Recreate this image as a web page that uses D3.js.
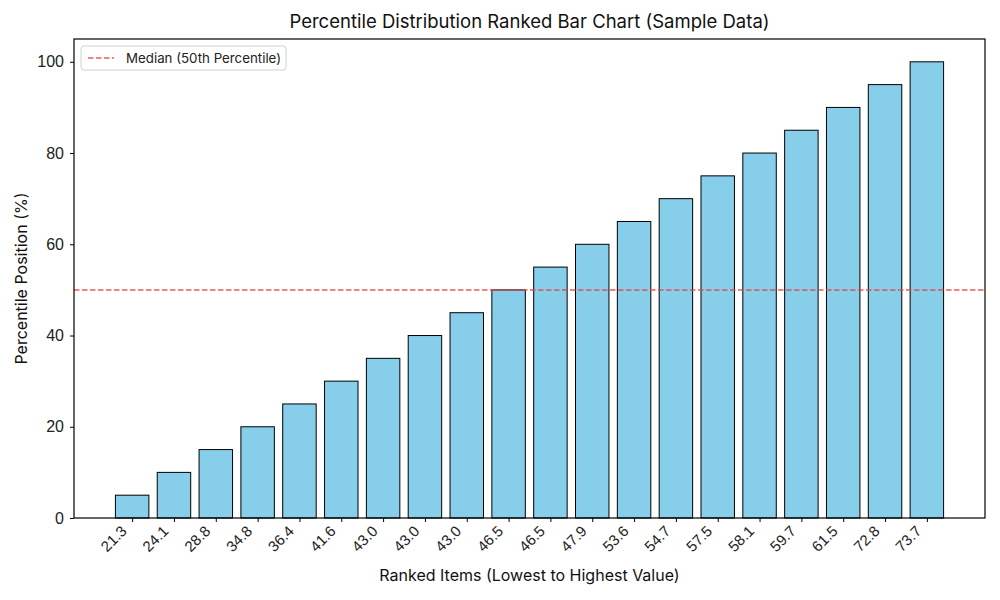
<!DOCTYPE html>
<html>
<head>
<meta charset="utf-8">
<script src="https://cdn.jsdelivr.net/npm/d3@7"></script>
<style>
  body { margin: 0; background: #fff; }
  svg { font-family: Inter, "DejaVu Sans", sans-serif; }
</style>
</head>
<body>
<svg id="chart" width="1000" height="600"></svg>
<script>
// values of the ranked items (tick labels) and their percentile positions
const itemValues = [21.3, 24.1, 28.8, 34.8, 36.4, 41.6, 43.0, 43.0, 43.0, 46.5,
                    46.5, 47.9, 53.6, 54.7, 57.5, 58.1, 59.7, 61.5, 72.8, 73.7];
const percentiles = [5, 10, 15, 20, 25, 30, 35, 40, 45, 50,
                     55, 60, 65, 70, 75, 80, 85, 90, 95, 100];
const yTicks = [0, 20, 40, 60, 80, 100];
const medianValue = 50;

const margin = { top: 39, right: 15, bottom: 82, left: 74 };
const width = 1000, height = 600;

const svg = d3.select('#chart');
const g = svg.append('g').attr('transform', `translate(${margin.left},${margin.top})`);
const w = width - margin.left - margin.right;
const h = height - margin.top - margin.bottom;

const idx = d3.range(itemValues.length);
const barW = 0.8;
// matplotlib-style limits: bars span -0.4..n-0.6, plus 5% margin
const lo = -barW / 2, hi = idx.length - 1 + barW / 2;
const pad = (hi - lo) * 0.05;
const x = d3.scaleLinear().domain([lo - pad, hi + pad]).range([0, w]);
const y = d3.scaleLinear().domain([0, 105]).range([h, 0]);

// Bars
g.selectAll('rect.bar')
  .data(idx)
  .join('rect')
  .attr('class', 'bar')
  .attr('x', (i) => x(i - barW / 2))
  .attr('width', (i) => x(i + barW / 2) - x(i - barW / 2))
  .attr('y', (i) => y(percentiles[i]))
  .attr('height', (i) => y(0) - y(percentiles[i]))
  .attr('fill', '#87ceeb')
  .attr('stroke', '#000')
  .attr('stroke-width', 1);

// Median line
g.append('line')
  .attr('x1', 0).attr('x2', w)
  .attr('y1', y(medianValue)).attr('y2', y(medianValue))
  .attr('stroke', '#e8403f')
  .attr('stroke-opacity', 0.85)
  .attr('stroke-width', 1.5)
  .attr('stroke-dasharray', '5.5,2.5');

// Axes
const xAxis = g.append('g')
  .attr('transform', `translate(0,${h})`)
  .call(d3.axisBottom(x).tickValues(idx).tickFormat('').tickSize(4));
xAxis.select('.domain').remove();
xAxis.selectAll('line').attr('stroke', '#000');
xAxis.selectAll('.tick')
  .append('text')
  .attr('fill', '#222')
  .attr('font-size', 15)
  .attr('text-anchor', 'end')
  .attr('transform', 'translate(-5,14) rotate(-45)')
  .text((i) => itemValues[i].toFixed(1));

const yAxis = g.append('g')
  .call(d3.axisLeft(y).tickValues(yTicks).tickSize(4).tickPadding(6));
yAxis.select('.domain').remove();
yAxis.selectAll('line').attr('stroke', '#000');
yAxis.selectAll('text').attr('font-size', 16).attr('fill', '#222');

// Frame
g.append('rect')
  .attr('width', w).attr('height', h)
  .attr('fill', 'none').attr('stroke', '#000').attr('stroke-width', 1.2);

// Legend
const lg = g.append('g').attr('transform', 'translate(7,7)');
lg.append('rect')
  .attr('width', 205).attr('height', 24).attr('rx', 3)
  .attr('fill', '#fff').attr('fill-opacity', 0.8)
  .attr('stroke', '#d0d0d0');
lg.append('line')
  .attr('x1', 7).attr('x2', 33).attr('y1', 12).attr('y2', 12)
  .attr('stroke', '#e8403f').attr('stroke-opacity', 0.85)
  .attr('stroke-width', 1.5).attr('stroke-dasharray', '5.5,2.5');
lg.append('text')
  .attr('x', 45).attr('y', 12).attr('dy', '0.35em')
  .attr('font-size', 13.3).attr('fill', '#222')
  .text('Median (50th Percentile)');

// Titles
svg.append('text')
  .attr('x', margin.left + w / 2).attr('y', 28)
  .attr('text-anchor', 'middle').attr('font-size', 18.5).attr('fill', '#111')
  .text('Percentile Distribution Ranked Bar Chart (Sample Data)');
svg.append('text')
  .attr('x', margin.left + w / 2).attr('y', 581)
  .attr('text-anchor', 'middle').attr('font-size', 16).attr('fill', '#111')
  .text('Ranked Items (Lowest to Highest Value)');
svg.append('text')
  .attr('transform', `translate(27,${margin.top + h / 2}) rotate(-90)`)
  .attr('text-anchor', 'middle').attr('font-size', 16).attr('fill', '#111')
  .text('Percentile Position (%)');
</script>
</body>
</html>
